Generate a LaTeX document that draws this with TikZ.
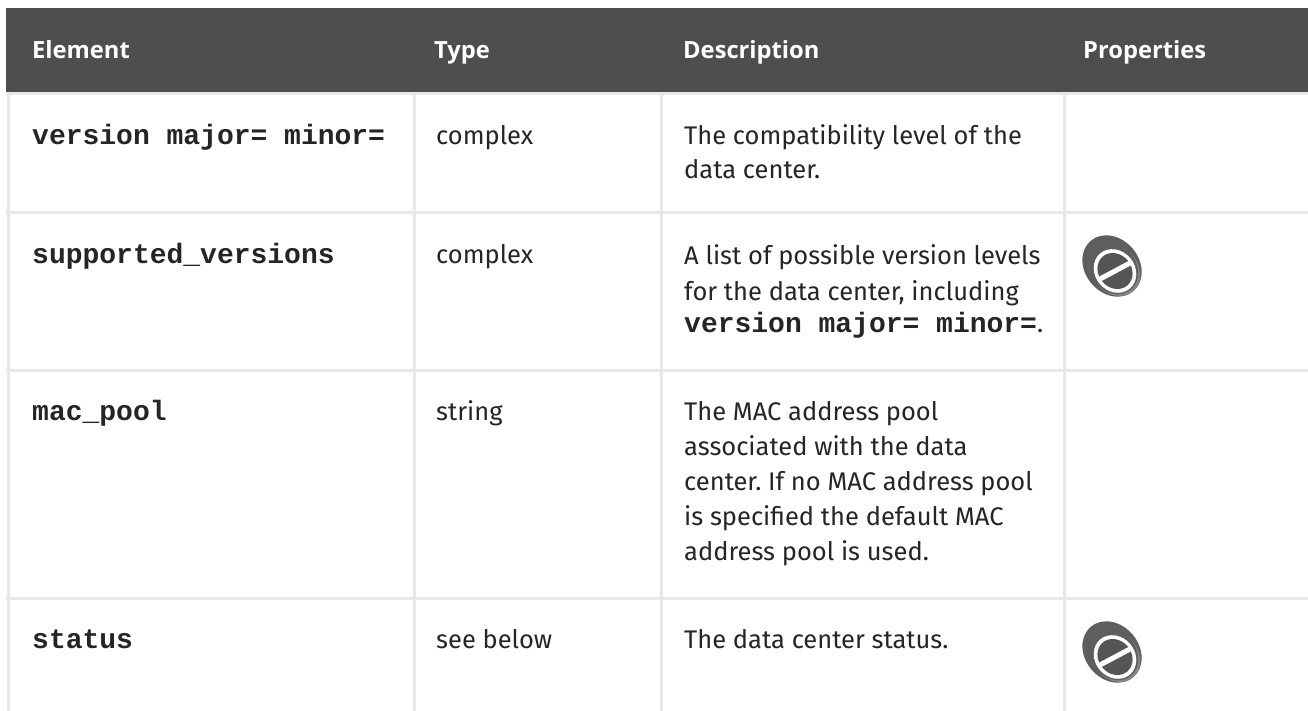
\documentclass[tikz,border=0pt]{standalone}
\usepackage{fontspec}
\setmainfont{Fira Sans}
\setmonofont{Liberation Mono}
\newfontfamily\headfont{Open Sans}
\frenchspacing
\definecolor{hdr}{HTML}{4E4E4E}
\definecolor{grid}{HTML}{E8E8E8}
\definecolor{txt}{HTML}{252525}
\definecolor{icdark}{HTML}{555555}
\definecolor{icedge}{HTML}{5E5E5E}
\definecolor{iclight}{HTML}{858585}
\tikzset{
  cell/.style={anchor=base west, inner sep=0pt, text=txt, font=\fontsize{25.5}{30}\selectfont},
  code/.style={anchor=base west, inner sep=0pt, text=txt, font=\fontsize{28}{33}\selectfont\ttfamily\bfseries},
  head/.style={anchor=base west, inner sep=0pt, text=white, font=\fontsize{23.7}{28}\selectfont\headfont\bfseries},
  gridline/.style={draw=grid, line width=3pt},
  noicon/.pic={
    \fill[icedge] (0,0) ellipse [x radius=33, y radius=27, rotate=-50];
    \fill[iclight] (3,4) ellipse [x radius=28, y radius=23, rotate=-50];
    \fill[icedge] (1,2) ellipse [x radius=28, y radius=23, rotate=-50];
    \fill[white] (3,5) ellipse [x radius=23, y radius=20, rotate=-50];
    \fill[icdark] (3,5) ellipse [x radius=19, y radius=16.5, rotate=-50];
    \draw[white, line width=5pt] (3,5) ++(152:19) -- ++(-28:38);
  }
}
\begin{document}
\begin{tikzpicture}[x=1pt,y=-1pt]
\useasboundingbox (0,0) rectangle (1308,711);
\fill[white] (0,0) rectangle (1308,711);
% header
\fill[hdr] (6,8) rectangle (1308,92);
% grid
\draw[gridline] (6,93.5) -- (1308,93.5);
\draw[gridline] (6,213) -- (1308,213);
\draw[gridline] (6,370) -- (1308,370);
\draw[gridline] (6,598) -- (1308,598);
\draw[gridline] (8.5,95) -- (8.5,711);
\draw[gridline] (414,95) -- (414,711);
\draw[gridline] (661,95) -- (661,711);
\draw[gridline] (1064,95) -- (1064,711);
% header texts
\node[head] (h1) at (32,59) {Element};
\node[head] (h2) at (434,59) {Type};
\node[head] (h3) at (683,59) {Description};
\node[head] (h4) at (1083,59) {Properties};
% row 1
\node[code] (e1) at (32,145) {version major= minor=};
\node[cell] (t1) at (436,145) {complex};
\node[cell] (d1a) at (684,145) {The compatibility level of the};
\node[cell] (d1b) at (684,179) {data center.};
% row 2
\node[code] (e2) at (32,264) {supported\_versions};
\node[cell] (t2) at (436,264) {complex};
\node[cell] (d2a) at (684,265) {A list of possible version levels};
\node[cell] (d2b) at (684,300) {for the data center, including};
\node[cell] (d2c) at (684,332) {{\fontsize{28}{33}\selectfont\ttfamily\bfseries version major= minor=}.};
\pic (i2) at (1112,266) {noicon};
% row 3
\node[code] (e3) at (32,420) {mac\_pool};
\node[cell] (t3) at (436,420) {string};
\node[cell] (d3a) at (684,420) {The MAC address pool};
\node[cell] (d3b) at (684,455) {associated with the data};
\node[cell] (d3c) at (684,490) {center. If no MAC address pool};
\node[cell] (d3d) at (684,525) {is specified the default MAC};
\node[cell] (d3e) at (684,560) {address pool is used.};
% row 4
\node[code] (e4) at (32,648) {status};
\node[cell] (t4) at (436,648) {see below};
\node[cell] (d4a) at (684,648) {The data center status.};
\pic (i4) at (1112,652) {noicon};
\end{tikzpicture}
\end{document}
